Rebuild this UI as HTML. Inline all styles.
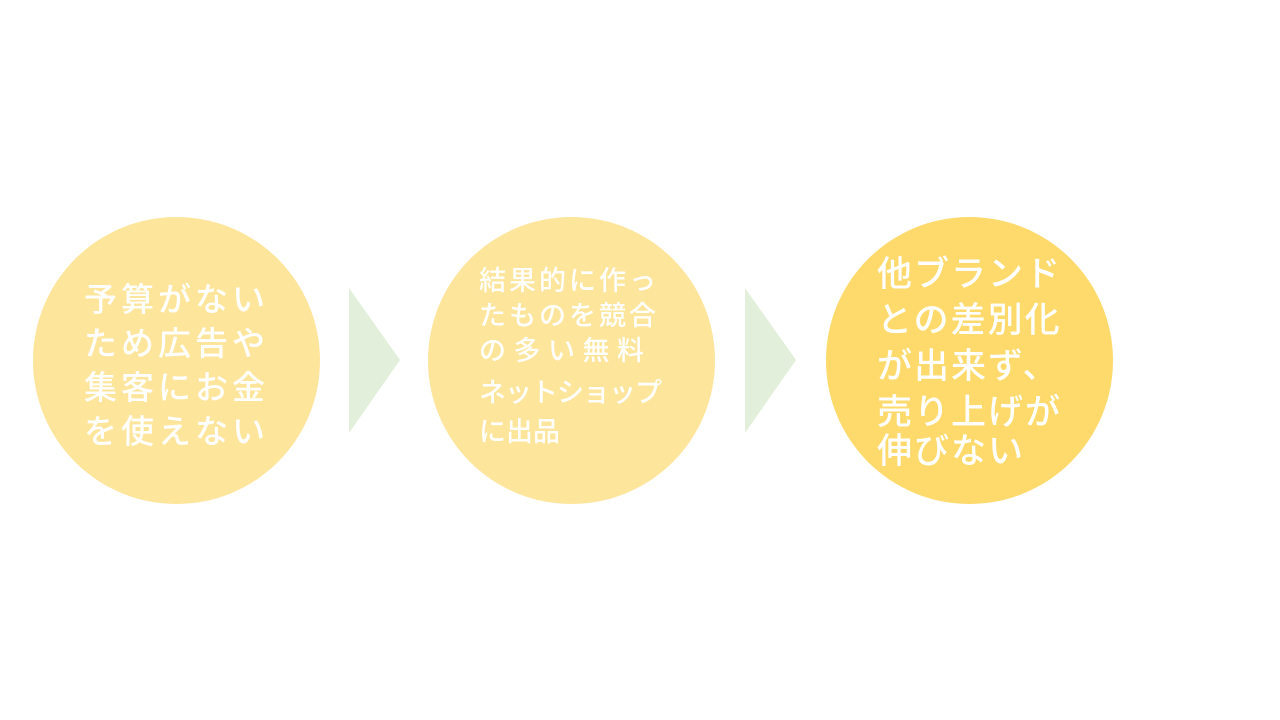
<!DOCTYPE html>
<html><head><meta charset="utf-8"><style>
body{margin:0;width:1280px;height:720px;background:#fff;position:relative;overflow:hidden;font-family:"Liberation Sans","Noto Sans CJK JP",sans-serif;}
.c{position:absolute;border-radius:50%;width:287px;height:287px;}
.t{position:absolute;color:#fff;white-space:nowrap;line-height:1;font-weight:500;}
.t div{position:absolute;left:0;}
</style></head><body>
<div class="c" style="left:33px;top:217px;background:#fde59b"></div>
<div class="c" style="left:428px;top:217px;background:#fde59b"></div>
<div class="c" style="left:826px;top:217px;background:#fdda6b"></div>
<svg style="position:absolute;left:0;top:0" width="1280" height="720">
<polygon points="349,288 400,360 349,433" fill="#e2efda"/>
<polygon points="745,288 796,360 745,433" fill="#e2efda"/>
</svg>
<div class="t" style="left:84px;top:278px;font-size:33px;letter-spacing:4px;line-height:44px">予算がない<br>ため広告や<br>集客にお金<br>を使えない</div>
<div class="t" style="left:479px;top:268px;font-size:27px;">
<div style="top:0;letter-spacing:3px">結果的に作っ</div>
<div style="top:35px;letter-spacing:3px">たものを競合</div>
<div style="top:70px;letter-spacing:0px">の 多 い 無 料</div>
<div style="top:112px;letter-spacing:-1px">ネットショップ</div>
<div style="top:151px;letter-spacing:0px">に出品</div>
</div>
<div class="t" style="left:877px;top:257px;font-size:35px;letter-spacing:2px;">
<div style="top:0">他ブランド</div>
<div style="top:46px">との差別化</div>
<div style="top:92px">が出来ず、</div>
<div style="top:138px">売り上げが</div>
<div style="top:177px">伸びない</div>
</div>
</body></html>
